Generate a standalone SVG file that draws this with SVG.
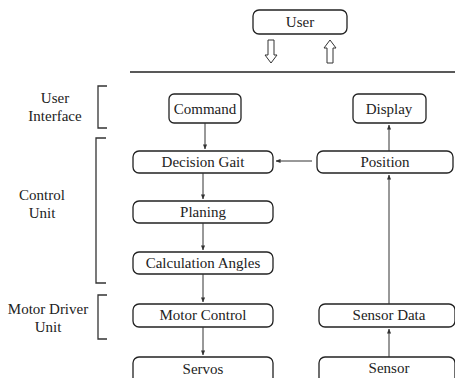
<svg xmlns="http://www.w3.org/2000/svg" width="455" height="378" viewBox="0 0 455 378">
<style>
.box{fill:#fff;stroke:#222;stroke-width:1.3}
.t{font-family:'Liberation Serif','DejaVu Serif','Times New Roman',serif;font-size:15px;fill:#222;text-anchor:middle}
.c{stroke:#333;stroke-width:1;fill:none}
.br{stroke:#333;stroke-width:1.3;fill:none}
.hol{fill:#fff;stroke:#333;stroke-width:1}
</style>
<defs>
<marker id="ah" viewBox="0 0 6 6" refX="5.5" refY="3" markerWidth="5" markerHeight="5" orient="auto" markerUnits="userSpaceOnUse">
<path d="M0,0.5 L6,3 L0,5.5 Z" fill="#333"/>
</marker>
</defs>
<rect width="455" height="378" fill="#fff"/>
<g id="labels">
<text class="t" x="55" y="103">User</text>
<text class="t" x="55" y="121">Interface</text>
<path class="br" d="M107,86 H98 V128 H107"/>
<text class="t" x="42" y="200">Control</text>
<text class="t" x="42" y="218">Unit</text>
<path class="br" d="M106,138 H96 V283 H106"/>
<text class="t" x="48" y="314">Motor Driver</text>
<text class="t" x="48" y="332">Unit</text>
<path class="br" d="M107,295 H98 V339 H107"/>
</g>
<g id="user"><rect class="box" x="253" y="10" width="94" height="24" rx="6"/><text class="t" x="300" y="27">User</text></g>
<line x1="130" y1="72" x2="455" y2="72" stroke="#222" stroke-width="1.3"/>
<g id="command"><rect class="box" x="169" y="94" width="72" height="29" rx="5"/><text class="t" x="205" y="114">Command</text></g>
<g id="display"><rect class="box" x="353" y="94" width="73" height="29" rx="5"/><text class="t" x="389" y="114">Display</text></g>
<g id="decision"><rect class="box" x="133" y="151" width="140" height="22" rx="6"/><text class="t" x="203" y="167">Decision Gait</text></g>
<g id="position"><rect class="box" x="317" y="151" width="136" height="22" rx="6"/><text class="t" x="385" y="167">Position</text></g>
<g id="planing"><rect class="box" x="133" y="201" width="140" height="22" rx="6"/><text class="t" x="203" y="217">Planing</text></g>
<g id="calc"><rect class="box" x="133" y="252" width="140" height="22" rx="6"/><text class="t" x="203" y="268">Calculation Angles</text></g>
<g id="motor"><rect class="box" x="133" y="304" width="140" height="23" rx="6"/><text class="t" x="203" y="320">Motor Control</text></g>
<g id="sensordata"><rect class="box" x="319" y="304" width="136" height="23" rx="6"/><text class="t" x="389" y="320">Sensor Data</text></g>
<g id="servos"><rect class="box" x="133" y="357" width="140" height="30" rx="6"/><text class="t" x="203" y="374">Servos</text></g>
<g id="sensor"><rect class="box" x="319" y="357" width="136" height="30" rx="6"/><text class="t" x="389" y="373">Sensor</text></g>
<g id="connectors">
<path class="hol" d="M268,40 H274 V55 H277 L271,63 L265,55 H268 Z"/>
<path class="hol" d="M327,63 H333 V48 H336 L330,40 L324,48 H327 Z"/>
<line class="c" x1="205" y1="123" x2="205" y2="149" marker-end="url(#ah)"/>
<line class="c" x1="203" y1="173" x2="203" y2="199" marker-end="url(#ah)"/>
<line class="c" x1="203" y1="223" x2="203" y2="250" marker-end="url(#ah)"/>
<line class="c" x1="203" y1="274" x2="203" y2="302" marker-end="url(#ah)"/>
<line class="c" x1="203" y1="327" x2="203" y2="355" marker-end="url(#ah)"/>
<line class="c" x1="312" y1="161" x2="276" y2="161" marker-end="url(#ah)"/>
<line class="c" x1="389" y1="151" x2="389" y2="125" marker-end="url(#ah)"/>
<line class="c" x1="389" y1="304" x2="389" y2="175" marker-end="url(#ah)"/>
<line class="c" x1="389" y1="357" x2="389" y2="329" marker-end="url(#ah)"/>
</g>
</svg>
